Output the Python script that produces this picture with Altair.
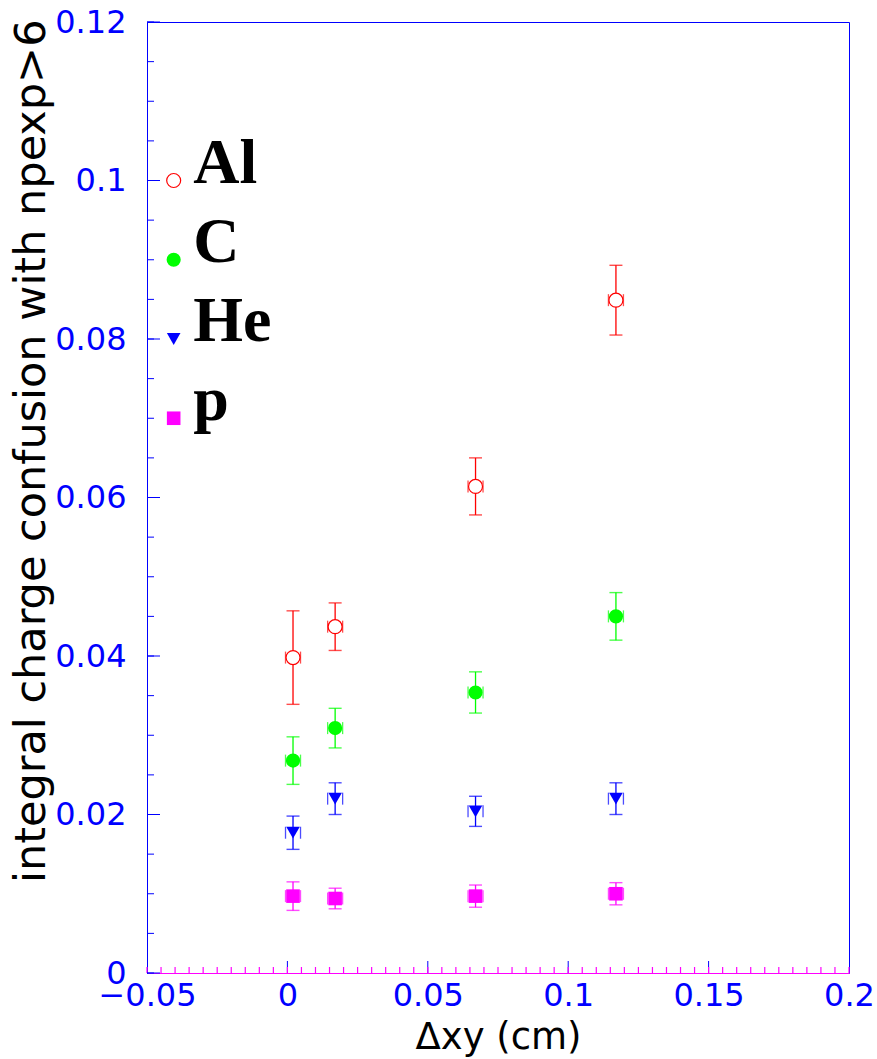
import altair as alt
import pandas as pd
import numpy as np

# ---- data ----
x_vals = [0.002, 0.017, 0.067, 0.117]
al_y = [0.0398, 0.0437, 0.0614, 0.0849]
al_err = [0.0059, 0.0030, 0.0036, 0.0044]
c_y = [0.0268, 0.0309, 0.0354, 0.0450]
c_err = [0.0030, 0.0025, 0.0026, 0.0030]
he_y = [0.0177, 0.0220, 0.0204, 0.0220]
he_err = [0.0021, 0.0020, 0.0019, 0.0020]
p_y = [0.0097, 0.0094, 0.0097, 0.0100]
p_err = [0.0018, 0.0013, 0.0014, 0.0014]

species = ["Al", "C", "He", "p"]
legend_y = [0.10, 0.09, 0.08, 0.07]
legend_x = -0.0405
legend_text_x = -0.0335

x_ticks_labels = [-0.05, 0, 0.05, 0.1, 0.15, 0.2]
y_ticks_labels = [0, 0.02, 0.04, 0.06, 0.08, 0.1, 0.12]

BLUE = "#0000ff"
MAG = "#ff00ff"
colors = {"Al": "#ff0000", "C": "#00ff00", "He": "#0000ff", "p": "#ff00ff"}
shapes = {"Al": "circle", "C": "circle", "He": "triangle-down", "p": "square"}
filled = {"Al": False, "C": True, "He": True, "p": True}
sizes = {"Al": 195, "C": 200, "He": 185, "p": 185}

W, H = 702, 951
xs = alt.Scale(domain=[-0.05, 0.2], nice=False, zero=False)
ys = alt.Scale(domain=[0, 0.12], nice=False, zero=False)
cscale = alt.Scale(domain=species, range=[colors[s] for s in species])

series = {"Al": (al_y, al_err), "C": (c_y, c_err), "He": (he_y, he_err), "p": (p_y, p_err)}
rows = []
for s, (yy, ee) in series.items():
    for xv, yv, ev in zip(x_vals, yy, ee):
        rows.append({"s": s, "x": xv, "y": yv, "lo": yv - ev, "hi": yv + ev})
df = pd.DataFrame(rows)

layers = []

base_x = alt.X("x:Q", scale=xs,
               axis=alt.Axis(values=x_ticks_labels, ticks=False, tickSize=0, grid=False,
                             domainColor=MAG, labelColor=BLUE, labelFont="DejaVu Sans",
                             labelFontSize=32, labelPadding=7, labelFlush=False, format="~g",
                             labelOverlap=False,
                             title="Δxy (cm)", titleFont="DejaVu Sans", titleFontSize=37,
                             titleFontWeight="normal", titleColor="black",
                             titleY=75, titleBaseline="alphabetic"))
base_y = alt.Y("y:Q", scale=ys,
               axis=alt.Axis(values=y_ticks_labels, ticks=False, tickSize=0, grid=False,
                             domainColor=BLUE, labelColor=BLUE, labelFont="DejaVu Sans",
                             labelFontSize=32, labelPadding=21, format="~g", labelOverlap=False,
                             labelBaseline="middle",
                             title="integral charge confusion with npexp>6", titleFont="DejaVu Sans",
                             titleFontSize=43, titleFontWeight="normal", titleColor="black",
                             titleAngle=270, titleX=-116, titleY=-3, titleAlign="right",
                             titleBaseline="middle"))

err = alt.Chart(df).mark_rule(strokeWidth=1.3).encode(
    x=base_x, y=base_y, y2="hi:Q",
    color=alt.Color("s:N", scale=cscale, legend=None),
).transform_calculate(y="datum.lo")
layers.append(err)

for col in ["lo", "hi"]:
    layers.append(alt.Chart(df).mark_tick(orient="horizontal", size=13, thickness=1.4).encode(
        x=alt.X("x:Q", scale=xs), y=alt.Y(f"{col}:Q", scale=ys),
        color=alt.Color("s:N", scale=cscale, legend=None)))

for off in [-7.5, 7.5]:
    layers.append(alt.Chart(df).mark_tick(orient="vertical", size=12, thickness=1.3, xOffset=off).encode(
        x=alt.X("x:Q", scale=xs), y=alt.Y("y:Q", scale=ys),
        color=alt.Color("s:N", scale=cscale, legend=None)))

def marker(data, s):
    return alt.Chart(data).mark_point(shape=shapes[s], filled=filled[s], size=sizes[s],
                                      color=colors[s], opacity=1,
                                      fill=colors[s] if filled[s] else "white",
                                      strokeWidth=1.2).encode(
        x=alt.X("x:Q", scale=xs), y=alt.Y("y:Q", scale=ys))

for s in species:
    layers.append(marker(df[df.s == s], s))

leg = pd.DataFrame({"s": species, "y": legend_y, "x": [legend_x] * 4, "tx": [legend_text_x] * 4})
for s in species:
    layers.append(marker(leg[leg.s == s], s))
layers.append(alt.Chart(leg).mark_text(font="Liberation Serif", fontWeight="bold", fontSize=64,
                                       align="left", baseline="alphabetic", dy=2, color="black").encode(
    x=alt.X("tx:Q", scale=xs), y=alt.Y("y:Q", scale=ys), text="s:N"))

x_minor = pd.DataFrame({"x": np.round(np.arange(-0.05, 0.2001, 0.005), 4)})
x_major = pd.DataFrame({"x": [0, 0.05, 0.1, 0.15]})
y_minor = pd.DataFrame({"y": np.round(np.arange(0, 0.1201, 0.005), 4)})
y_major = pd.DataFrame({"y": y_ticks_labels})

layers.append(alt.Chart(x_major).mark_rule(color=BLUE, strokeWidth=1).encode(
    x=alt.X("x:Q", scale=xs), y=alt.value(H), y2=alt.value(H - 12)))
layers.append(alt.Chart(x_minor).mark_rule(color=MAG, strokeWidth=1.2).encode(
    x=alt.X("x:Q", scale=xs), y=alt.value(H), y2=alt.value(H - 6)))
layers.append(alt.Chart(y_minor).mark_rule(color=BLUE, strokeWidth=1).encode(
    y=alt.Y("y:Q", scale=ys), x=alt.value(0), x2=alt.value(7)))
layers.append(alt.Chart(y_major).mark_rule(color=BLUE, strokeWidth=1).encode(
    y=alt.Y("y:Q", scale=ys), x=alt.value(0), x2=alt.value(13)))

chart = alt.layer(*layers).properties(
    width=W, height=H,
    autosize=alt.AutoSizeParams(type="none"),
    padding={"left": 147, "top": 22, "right": 28, "bottom": 86},
    background="white",
).configure_view(stroke=BLUE, strokeWidth=1)

chart.save("out.html", embed_options={"renderer": "svg", "actions": False})
